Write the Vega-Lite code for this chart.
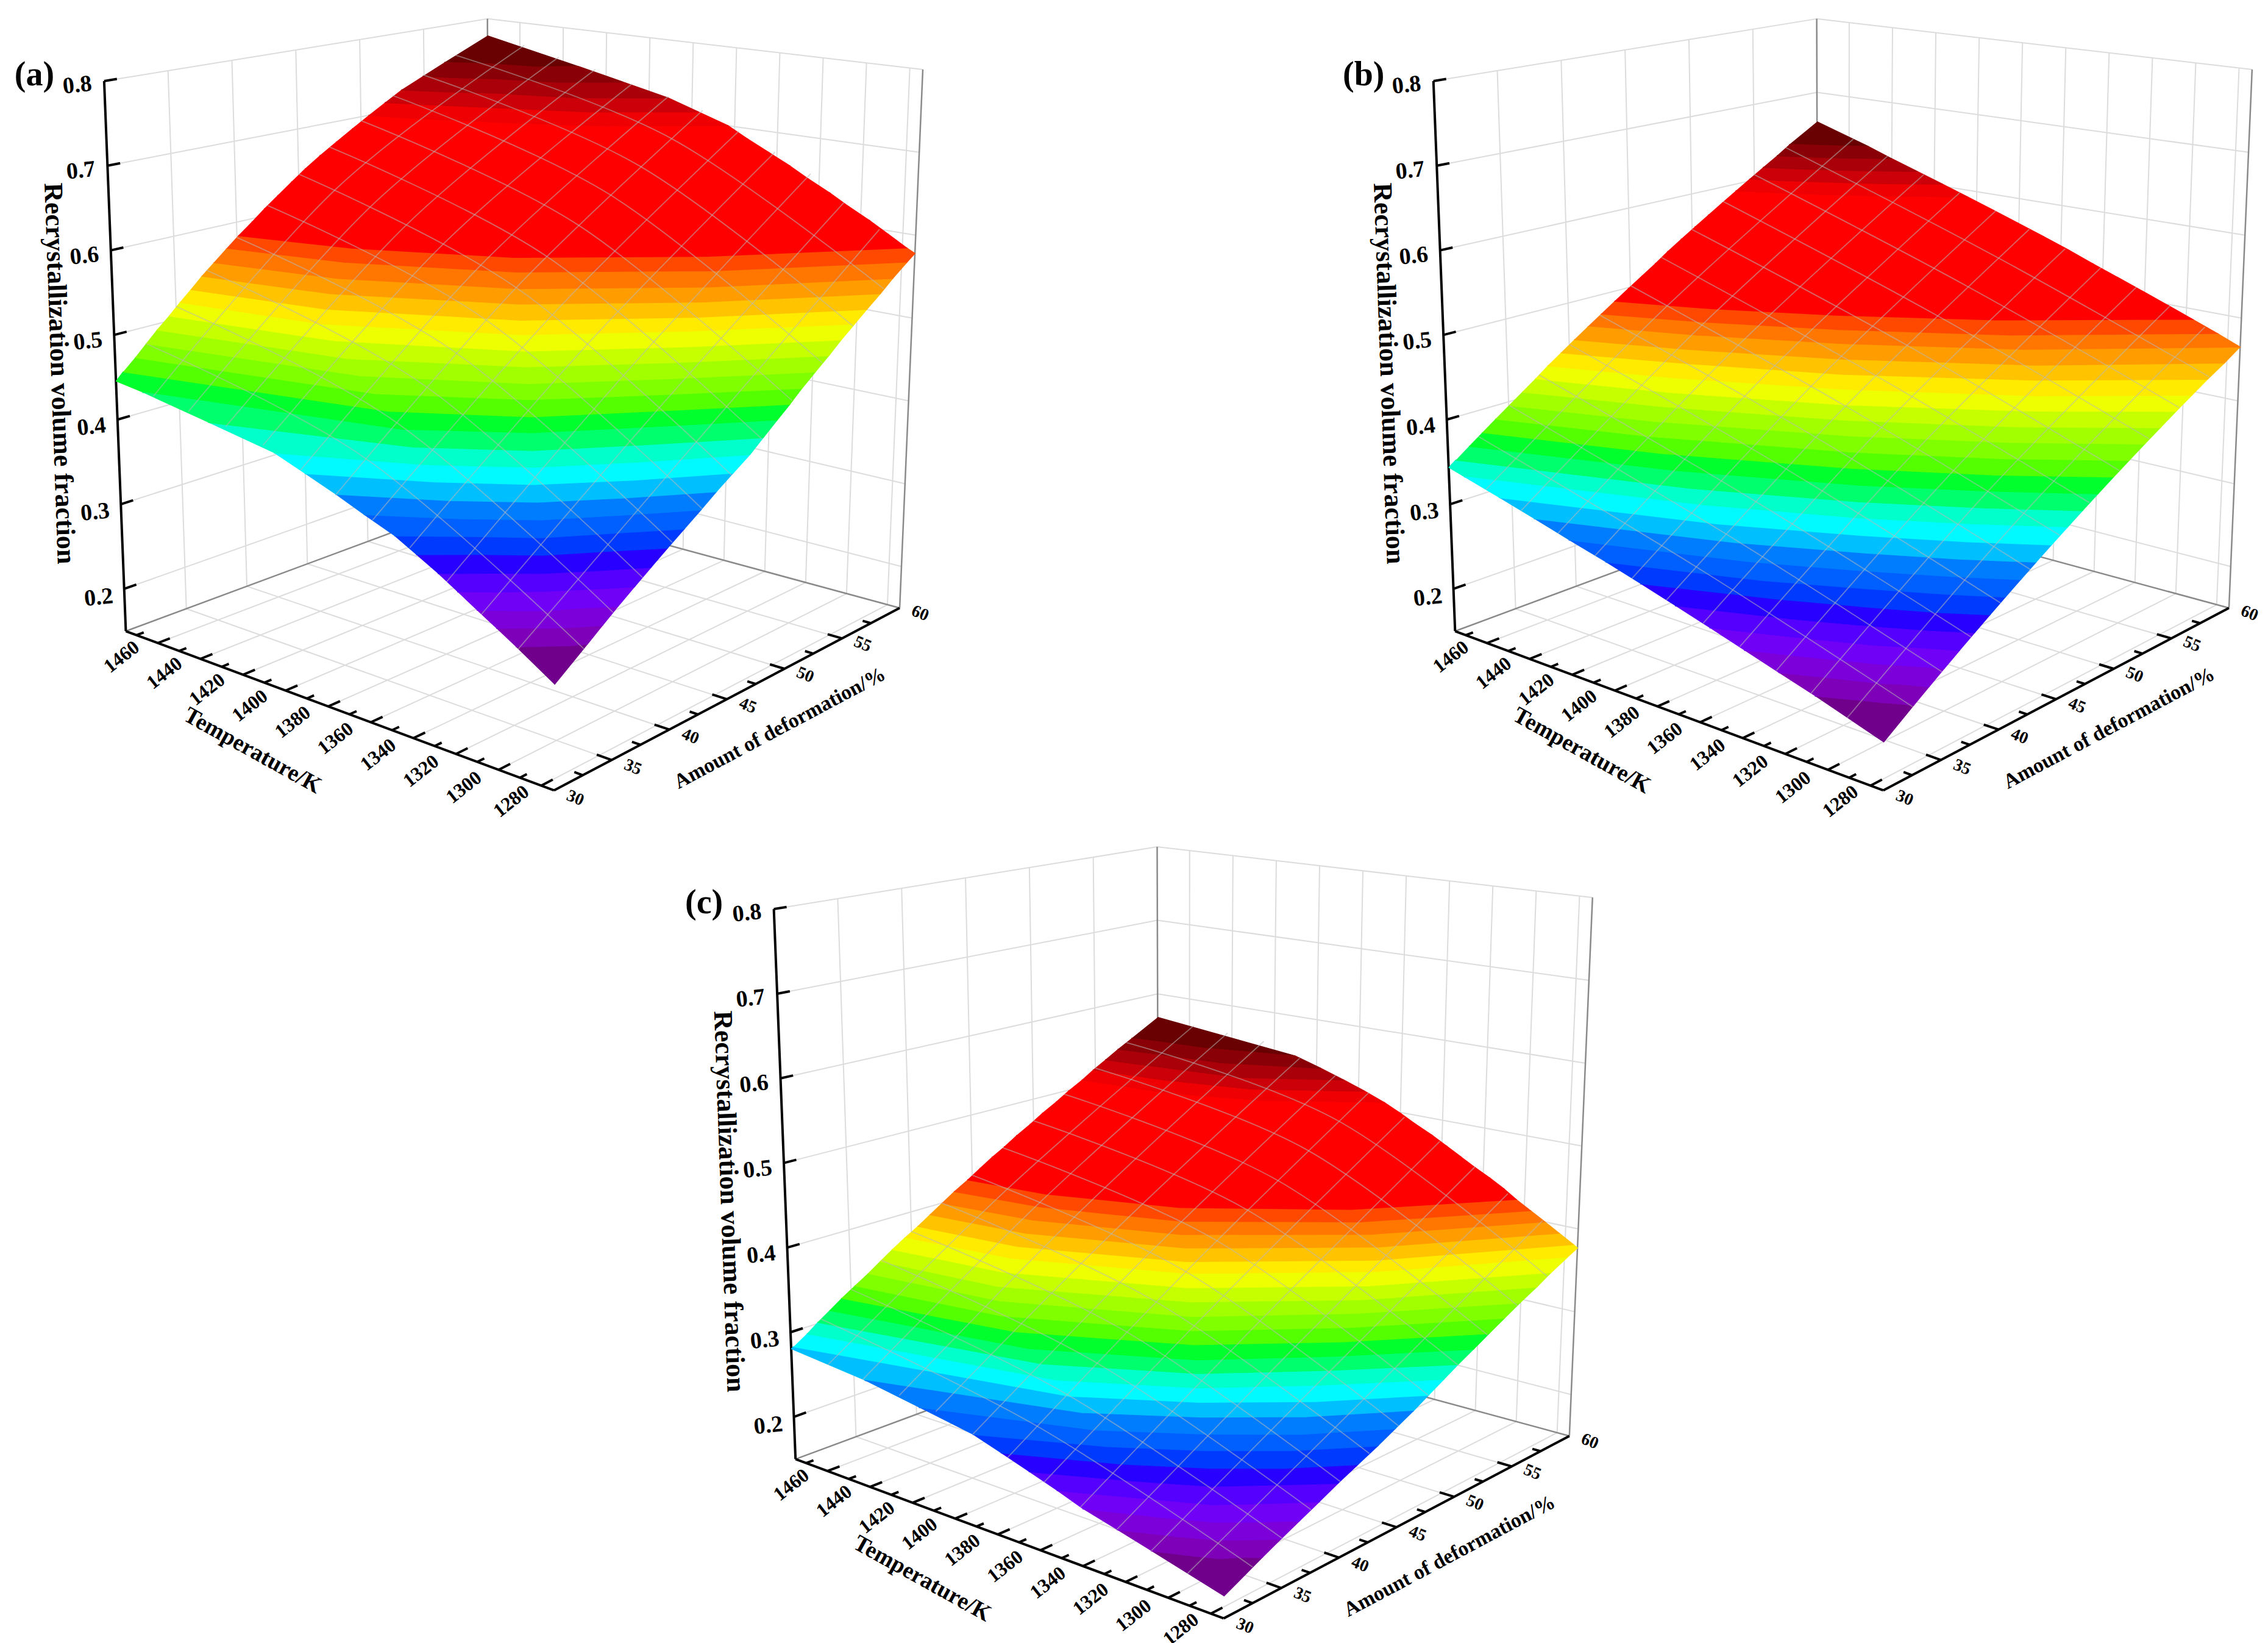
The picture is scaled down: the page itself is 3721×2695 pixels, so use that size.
{"$schema":"https://vega.github.io/schema/vega-lite/v6.json","width":3721,"height":2695,"padding":0,"autosize":{"type":"none"},"background":"white","config":{"view":{"stroke":null}},
"layer":[
{"data":{"values":[
{"t":1280,"d":30,"v":0.15,"t2":1280,"d2":60,"v2":0.15,"g":"g"},{"t":1300,"d":30,"v":0.15,"t2":1300,"d2":60,"v2":0.15,"g":"g"},{"t":1320,"d":30,"v":0.15,"t2":1320,"d2":60,"v2":0.15,"g":"g"},{"t":1340,"d":30,"v":0.15,"t2":1340,"d2":60,"v2":0.15,"g":"g"},{"t":1360,"d":30,"v":0.15,"t2":1360,"d2":60,"v2":0.15,"g":"g"},{"t":1380,"d":30,"v":0.15,"t2":1380,"d2":60,"v2":0.15,"g":"g"},{"t":1400,"d":30,"v":0.15,"t2":1400,"d2":60,"v2":0.15,"g":"g"},{"t":1420,"d":30,"v":0.15,"t2":1420,"d2":60,"v2":0.15,"g":"g"},{"t":1440,"d":30,"v":0.15,"t2":1440,"d2":60,"v2":0.15,"g":"g"},{"t":1460,"d":30,"v":0.15,"t2":1460,"d2":60,"v2":0.15,"g":"g"},
{"t":1475,"d":35,"v":0.15,"t2":1274,"d2":35,"v2":0.15,"g":"g"},{"t":1475,"d":40,"v":0.15,"t2":1274,"d2":40,"v2":0.15,"g":"g"},{"t":1475,"d":45,"v":0.15,"t2":1274,"d2":45,"v2":0.15,"g":"g"},{"t":1475,"d":50,"v":0.15,"t2":1274,"d2":50,"v2":0.15,"g":"g"},{"t":1475,"d":55,"v":0.15,"t2":1274,"d2":55,"v2":0.15,"g":"g"},
{"t":1475,"d":35,"v":0.15,"t2":1475,"d2":35,"v2":0.8,"g":"g"},{"t":1475,"d":40,"v":0.15,"t2":1475,"d2":40,"v2":0.8,"g":"g"},{"t":1475,"d":45,"v":0.15,"t2":1475,"d2":45,"v2":0.8,"g":"g"},{"t":1475,"d":50,"v":0.15,"t2":1475,"d2":50,"v2":0.8,"g":"g"},{"t":1475,"d":55,"v":0.15,"t2":1475,"d2":55,"v2":0.8,"g":"g"},
{"t":1280,"d":60,"v":0.15,"t2":1280,"d2":60,"v2":0.8,"g":"g"},{"t":1300,"d":60,"v":0.15,"t2":1300,"d2":60,"v2":0.8,"g":"g"},{"t":1320,"d":60,"v":0.15,"t2":1320,"d2":60,"v2":0.8,"g":"g"},{"t":1340,"d":60,"v":0.15,"t2":1340,"d2":60,"v2":0.8,"g":"g"},{"t":1360,"d":60,"v":0.15,"t2":1360,"d2":60,"v2":0.8,"g":"g"},{"t":1380,"d":60,"v":0.15,"t2":1380,"d2":60,"v2":0.8,"g":"g"},{"t":1400,"d":60,"v":0.15,"t2":1400,"d2":60,"v2":0.8,"g":"g"},{"t":1420,"d":60,"v":0.15,"t2":1420,"d2":60,"v2":0.8,"g":"g"},{"t":1440,"d":60,"v":0.15,"t2":1440,"d2":60,"v2":0.8,"g":"g"},{"t":1460,"d":60,"v":0.15,"t2":1460,"d2":60,"v2":0.8,"g":"g"},
{"t":1475,"d":30,"v":0.2,"t2":1475,"d2":60,"v2":0.2,"g":"g"},{"t":1475,"d":30,"v":0.3,"t2":1475,"d2":60,"v2":0.3,"g":"g"},{"t":1475,"d":30,"v":0.4,"t2":1475,"d2":60,"v2":0.4,"g":"g"},{"t":1475,"d":30,"v":0.5,"t2":1475,"d2":60,"v2":0.5,"g":"g"},{"t":1475,"d":30,"v":0.6,"t2":1475,"d2":60,"v2":0.6,"g":"g"},{"t":1475,"d":30,"v":0.7,"t2":1475,"d2":60,"v2":0.7,"g":"g"},{"t":1475,"d":30,"v":0.8,"t2":1475,"d2":60,"v2":0.8,"g":"g"},
{"t":1475,"d":60,"v":0.2,"t2":1274,"d2":60,"v2":0.2,"g":"g"},{"t":1475,"d":60,"v":0.3,"t2":1274,"d2":60,"v2":0.3,"g":"g"},{"t":1475,"d":60,"v":0.4,"t2":1274,"d2":60,"v2":0.4,"g":"g"},{"t":1475,"d":60,"v":0.5,"t2":1274,"d2":60,"v2":0.5,"g":"g"},{"t":1475,"d":60,"v":0.6,"t2":1274,"d2":60,"v2":0.6,"g":"g"},{"t":1475,"d":60,"v":0.7,"t2":1274,"d2":60,"v2":0.7,"g":"g"},{"t":1475,"d":60,"v":0.8,"t2":1274,"d2":60,"v2":0.8,"g":"g"},
{"t":1475,"d":30,"v":0.15,"t2":1475,"d2":60,"v2":0.15,"g":"e"},{"t":1475,"d":60,"v":0.15,"t2":1274,"d2":60,"v2":0.15,"g":"e"},{"t":1475,"d":60,"v":0.15,"t2":1475,"d2":60,"v2":0.8,"g":"e"},{"t":1274,"d":60,"v":0.15,"t2":1274,"d2":60,"v2":0.8,"g":"e"},
{"t":1475,"d":30,"v":0.15,"t2":1274,"d2":30,"v2":0.15,"g":"a"},{"t":1274,"d":30,"v":0.15,"t2":1274,"d2":60,"v2":0.15,"g":"a"},{"t":1475,"d":30,"v":0.15,"t2":1475,"d2":30,"v2":0.8,"g":"a"},
{"t":1280,"d":30,"v":0.15,"t2":1280,"d2":31,"v2":0.15,"g":"a"},{"t":1300,"d":30,"v":0.15,"t2":1300,"d2":31,"v2":0.15,"g":"a"},{"t":1320,"d":30,"v":0.15,"t2":1320,"d2":31,"v2":0.15,"g":"a"},{"t":1340,"d":30,"v":0.15,"t2":1340,"d2":31,"v2":0.15,"g":"a"},{"t":1360,"d":30,"v":0.15,"t2":1360,"d2":31,"v2":0.15,"g":"a"},{"t":1380,"d":30,"v":0.15,"t2":1380,"d2":31,"v2":0.15,"g":"a"},{"t":1400,"d":30,"v":0.15,"t2":1400,"d2":31,"v2":0.15,"g":"a"},{"t":1420,"d":30,"v":0.15,"t2":1420,"d2":31,"v2":0.15,"g":"a"},{"t":1440,"d":30,"v":0.15,"t2":1440,"d2":31,"v2":0.15,"g":"a"},{"t":1460,"d":30,"v":0.15,"t2":1460,"d2":31,"v2":0.15,"g":"a"},
{"t":1290,"d":30,"v":0.15,"t2":1290,"d2":30.6,"v2":0.15,"g":"a"},{"t":1310,"d":30,"v":0.15,"t2":1310,"d2":30.6,"v2":0.15,"g":"a"},{"t":1330,"d":30,"v":0.15,"t2":1330,"d2":30.6,"v2":0.15,"g":"a"},{"t":1350,"d":30,"v":0.15,"t2":1350,"d2":30.6,"v2":0.15,"g":"a"},{"t":1370,"d":30,"v":0.15,"t2":1370,"d2":30.6,"v2":0.15,"g":"a"},{"t":1390,"d":30,"v":0.15,"t2":1390,"d2":30.6,"v2":0.15,"g":"a"},{"t":1410,"d":30,"v":0.15,"t2":1410,"d2":30.6,"v2":0.15,"g":"a"},{"t":1430,"d":30,"v":0.15,"t2":1430,"d2":30.6,"v2":0.15,"g":"a"},{"t":1450,"d":30,"v":0.15,"t2":1450,"d2":30.6,"v2":0.15,"g":"a"},{"t":1470,"d":30,"v":0.15,"t2":1470,"d2":30.6,"v2":0.15,"g":"a"},
{"t":1274,"d":35,"v":0.15,"t2":1281,"d2":35,"v2":0.15,"g":"a"},{"t":1274,"d":40,"v":0.15,"t2":1281,"d2":40,"v2":0.15,"g":"a"},{"t":1274,"d":45,"v":0.15,"t2":1281,"d2":45,"v2":0.15,"g":"a"},{"t":1274,"d":50,"v":0.15,"t2":1281,"d2":50,"v2":0.15,"g":"a"},{"t":1274,"d":55,"v":0.15,"t2":1281,"d2":55,"v2":0.15,"g":"a"},
{"t":1274,"d":32.5,"v":0.15,"t2":1278,"d2":32.5,"v2":0.15,"g":"a"},{"t":1274,"d":37.5,"v":0.15,"t2":1278,"d2":37.5,"v2":0.15,"g":"a"},{"t":1274,"d":42.5,"v":0.15,"t2":1278,"d2":42.5,"v2":0.15,"g":"a"},{"t":1274,"d":47.5,"v":0.15,"t2":1278,"d2":47.5,"v2":0.15,"g":"a"},{"t":1274,"d":52.5,"v":0.15,"t2":1278,"d2":52.5,"v2":0.15,"g":"a"},{"t":1274,"d":57.5,"v":0.15,"t2":1278,"d2":57.5,"v2":0.15,"g":"a"},
{"t":1475,"d":30,"v":0.2,"t2":1475,"d2":31,"v2":0.2,"g":"a"},{"t":1475,"d":30,"v":0.3,"t2":1475,"d2":31,"v2":0.3,"g":"a"},{"t":1475,"d":30,"v":0.4,"t2":1475,"d2":31,"v2":0.4,"g":"a"},{"t":1475,"d":30,"v":0.5,"t2":1475,"d2":31,"v2":0.5,"g":"a"},{"t":1475,"d":30,"v":0.6,"t2":1475,"d2":31,"v2":0.6,"g":"a"},{"t":1475,"d":30,"v":0.7,"t2":1475,"d2":31,"v2":0.7,"g":"a"},{"t":1475,"d":30,"v":0.8,"t2":1475,"d2":31,"v2":0.8,"g":"a"}
]},
"transform":[
{"calculate":"['a','b','c']","as":"ps"},{"flatten":["ps"],"as":["p"]},
{"calculate":"datum.p=='a'?0:datum.p=='b'?919:463","as":"ox"},{"calculate":"datum.p=='c'?572:0","as":"oy"},
{"calculate":"(1475-datum.t)/201","as":"s"},{"calculate":"(datum.d-30)/30","as":"r"},{"calculate":"(datum.v-0.15)/0.65","as":"w"},
{"calculate":"(1475-datum.t2)/201","as":"s2"},{"calculate":"(datum.d2-30)/30","as":"r2"},{"calculate":"(datum.v2-0.15)/0.65","as":"w2"},
{"calculate":"(1-datum.w)*((1-datum.s)*(1-datum.r)*87+datum.s*(1-datum.r)*383+datum.s*datum.r*622+(1-datum.s)*datum.r*338)+datum.w*((1-datum.s)*(1-datum.r)*72+datum.s*(1-datum.r)*385+datum.s*datum.r*638+(1-datum.s)*datum.r*337)+datum.ox","as":"px"},
{"calculate":"(1-datum.w)*((1-datum.s)*(1-datum.r)*436+datum.s*(1-datum.r)*546+datum.s*datum.r*420+(1-datum.s)*datum.r*343)+datum.w*((1-datum.s)*(1-datum.r)*56+datum.s*(1-datum.r)*114+datum.s*datum.r*48+(1-datum.s)*datum.r*13)+datum.oy","as":"py"},
{"calculate":"(1-datum.w2)*((1-datum.s2)*(1-datum.r2)*87+datum.s2*(1-datum.r2)*383+datum.s2*datum.r2*622+(1-datum.s2)*datum.r2*338)+datum.w2*((1-datum.s2)*(1-datum.r2)*72+datum.s2*(1-datum.r2)*385+datum.s2*datum.r2*638+(1-datum.s2)*datum.r2*337)+datum.ox","as":"px2"},
{"calculate":"(1-datum.w2)*((1-datum.s2)*(1-datum.r2)*436+datum.s2*(1-datum.r2)*546+datum.s2*datum.r2*420+(1-datum.s2)*datum.r2*343)+datum.w2*((1-datum.s2)*(1-datum.r2)*56+datum.s2*(1-datum.r2)*114+datum.s2*datum.r2*48+(1-datum.s2)*datum.r2*13)+datum.oy","as":"py2"}
],
"mark":{"type":"rule"},
"encoding":{
"x":{"field":"px","type":"quantitative","axis":null,"scale":{"domain":[0,1568],"nice":false,"zero":false}},
"y":{"field":"py","type":"quantitative","axis":null,"scale":{"domain":[1135,0],"nice":false,"zero":false}},
"x2":{"field":"px2"},"y2":{"field":"py2"},
"color":{"field":"g","type":"nominal","legend":null,"scale":{"domain":["g","e","a"],"range":["#dcdcdc","#8a8a8a","#000000"]}},
"strokeWidth":{"field":"g","type":"nominal","legend":null,"scale":{"type":"ordinal","domain":["g","e","a"],"range":[2,2.5,4]}}
}},
{"data":{"values":[
{"p":"a","k":1,"v":0.26,"t":1274,"d":30,"i":50},{"p":"a","k":14,"v":0.445,"t":1475,"d":30,"i":101},{"p":"a","k":24,"v":0.578,"t":1274,"d":60,"i":50},{"p":"a","k":38,"v":0.777,"t":1475,"d":60,"i":50},
{"p":"a","k":2,"v":0.286,"t":1292,"d":30,"i":0},{"p":"a","k":2,"v":0.286,"t":1287,"d":30.7,"i":1},{"p":"a","k":2,"v":0.286,"t":1283,"d":31.3,"i":2},{"p":"a","k":2,"v":0.286,"t":1278,"d":32,"i":3},{"p":"a","k":2,"v":0.286,"t":1274,"d":32.8,"i":4},
{"p":"a","k":3,"v":0.2985,"t":1301,"d":30,"i":0},{"p":"a","k":3,"v":0.2985,"t":1294,"d":31,"i":1},{"p":"a","k":3,"v":0.2985,"t":1287,"d":31.9,"i":2},{"p":"a","k":3,"v":0.2985,"t":1280,"d":33,"i":3},{"p":"a","k":3,"v":0.2985,"t":1274,"d":34.1,"i":4},
{"p":"a","k":4,"v":0.311,"t":1310,"d":30,"i":0},{"p":"a","k":4,"v":0.311,"t":1300,"d":31.3,"i":1},{"p":"a","k":4,"v":0.311,"t":1291,"d":32.5,"i":2},{"p":"a","k":4,"v":0.311,"t":1283,"d":34,"i":3},{"p":"a","k":4,"v":0.311,"t":1274,"d":35.4,"i":4},
{"p":"a","k":5,"v":0.324,"t":1319,"d":30,"i":0},{"p":"a","k":5,"v":0.324,"t":1307,"d":31.6,"i":1},{"p":"a","k":5,"v":0.324,"t":1296,"d":33.2,"i":2},{"p":"a","k":5,"v":0.324,"t":1285,"d":35,"i":3},{"p":"a","k":5,"v":0.324,"t":1274,"d":36.8,"i":4},
{"p":"a","k":6,"v":0.337,"t":1328,"d":30,"i":0},{"p":"a","k":6,"v":0.337,"t":1314,"d":32,"i":1},{"p":"a","k":6,"v":0.337,"t":1300,"d":33.8,"i":2},{"p":"a","k":6,"v":0.337,"t":1287,"d":36,"i":3},{"p":"a","k":6,"v":0.337,"t":1274,"d":38.2,"i":4},
{"p":"a","k":7,"v":0.35,"t":1338,"d":30,"i":0},{"p":"a","k":7,"v":0.35,"t":1321,"d":32.4,"i":1},{"p":"a","k":7,"v":0.35,"t":1304,"d":34.5,"i":2},{"p":"a","k":7,"v":0.35,"t":1290,"d":37,"i":3},{"p":"a","k":7,"v":0.35,"t":1274,"d":39.6,"i":4},
{"p":"a","k":8,"v":0.363,"t":1348,"d":30,"i":0},{"p":"a","k":8,"v":0.363,"t":1328,"d":32.7,"i":1},{"p":"a","k":8,"v":0.363,"t":1308,"d":35.1,"i":2},{"p":"a","k":8,"v":0.363,"t":1292,"d":38,"i":3},{"p":"a","k":8,"v":0.363,"t":1274,"d":41,"i":4},
{"p":"a","k":9,"v":0.376,"t":1362,"d":30,"i":0},{"p":"a","k":9,"v":0.376,"t":1335,"d":33,"i":1},{"p":"a","k":9,"v":0.376,"t":1312,"d":35.8,"i":2},{"p":"a","k":9,"v":0.376,"t":1294,"d":39,"i":3},{"p":"a","k":9,"v":0.376,"t":1274,"d":42.4,"i":4},
{"p":"a","k":10,"v":0.389,"t":1375,"d":30,"i":0},{"p":"a","k":10,"v":0.389,"t":1342,"d":33.4,"i":1},{"p":"a","k":10,"v":0.389,"t":1317,"d":36.4,"i":2},{"p":"a","k":10,"v":0.389,"t":1296,"d":39.9,"i":3},{"p":"a","k":10,"v":0.389,"t":1274,"d":43.7,"i":4},
{"p":"a","k":11,"v":0.402,"t":1389,"d":30,"i":0},{"p":"a","k":11,"v":0.402,"t":1350,"d":33.8,"i":1},{"p":"a","k":11,"v":0.402,"t":1322,"d":37,"i":2},{"p":"a","k":11,"v":0.402,"t":1298,"d":40.9,"i":3},{"p":"a","k":11,"v":0.402,"t":1274,"d":45.1,"i":4},
{"p":"a","k":12,"v":0.415,"t":1403,"d":30,"i":0},{"p":"a","k":12,"v":0.415,"t":1357,"d":34.1,"i":1},{"p":"a","k":12,"v":0.415,"t":1326,"d":37.7,"i":2},{"p":"a","k":12,"v":0.415,"t":1301,"d":41.9,"i":3},{"p":"a","k":12,"v":0.415,"t":1274,"d":46.5,"i":4},
{"p":"a","k":13,"v":0.428,"t":1433,"d":30,"i":0},{"p":"a","k":13,"v":0.428,"t":1364,"d":34.5,"i":1},{"p":"a","k":13,"v":0.428,"t":1330,"d":38.3,"i":2},{"p":"a","k":13,"v":0.428,"t":1303,"d":42.9,"i":3},{"p":"a","k":13,"v":0.428,"t":1274,"d":47.6,"i":4},
{"p":"a","k":14,"v":0.441,"t":1463,"d":30,"i":0},{"p":"a","k":14,"v":0.441,"t":1371,"d":34.8,"i":1},{"p":"a","k":14,"v":0.441,"t":1334,"d":39,"i":2},{"p":"a","k":14,"v":0.441,"t":1305,"d":43.9,"i":3},{"p":"a","k":14,"v":0.441,"t":1274,"d":48.7,"i":4},
{"p":"a","k":15,"v":0.454,"t":1475,"d":30.6,"i":0},{"p":"a","k":15,"v":0.454,"t":1380,"d":35.3,"i":1},{"p":"a","k":15,"v":0.454,"t":1338,"d":39.7,"i":2},{"p":"a","k":15,"v":0.454,"t":1307,"d":44.8,"i":3},{"p":"a","k":15,"v":0.454,"t":1274,"d":49.8,"i":4},
{"p":"a","k":16,"v":0.467,"t":1475,"d":31.6,"i":0},{"p":"a","k":16,"v":0.467,"t":1388,"d":35.7,"i":1},{"p":"a","k":16,"v":0.467,"t":1343,"d":40.4,"i":2},{"p":"a","k":16,"v":0.467,"t":1309,"d":45.7,"i":3},{"p":"a","k":16,"v":0.467,"t":1274,"d":50.8,"i":4},
{"p":"a","k":17,"v":0.48,"t":1475,"d":32.5,"i":0},{"p":"a","k":17,"v":0.48,"t":1397,"d":36.1,"i":1},{"p":"a","k":17,"v":0.48,"t":1347,"d":41,"i":2},{"p":"a","k":17,"v":0.48,"t":1311,"d":46.5,"i":3},{"p":"a","k":17,"v":0.48,"t":1274,"d":51.9,"i":4},
{"p":"a","k":18,"v":0.493,"t":1475,"d":33.4,"i":0},{"p":"a","k":18,"v":0.493,"t":1405,"d":36.5,"i":1},{"p":"a","k":18,"v":0.493,"t":1352,"d":41.7,"i":2},{"p":"a","k":18,"v":0.493,"t":1313,"d":47.4,"i":3},{"p":"a","k":18,"v":0.493,"t":1274,"d":53,"i":4},
{"p":"a","k":19,"v":0.506,"t":1475,"d":34.4,"i":0},{"p":"a","k":19,"v":0.506,"t":1414,"d":37,"i":1},{"p":"a","k":19,"v":0.506,"t":1356,"d":42.3,"i":2},{"p":"a","k":19,"v":0.506,"t":1315,"d":48.2,"i":3},{"p":"a","k":19,"v":0.506,"t":1274,"d":54,"i":4},
{"p":"a","k":20,"v":0.519,"t":1475,"d":35.3,"i":0},{"p":"a","k":20,"v":0.519,"t":1422,"d":37.4,"i":1},{"p":"a","k":20,"v":0.519,"t":1361,"d":43,"i":2},{"p":"a","k":20,"v":0.519,"t":1317,"d":49.1,"i":3},{"p":"a","k":20,"v":0.519,"t":1274,"d":55.1,"i":4},
{"p":"a","k":21,"v":0.531,"t":1475,"d":36.2,"i":0},{"p":"a","k":21,"v":0.531,"t":1425,"d":38.3,"i":1},{"p":"a","k":21,"v":0.531,"t":1365,"d":43.6,"i":2},{"p":"a","k":21,"v":0.531,"t":1318,"d":49.9,"i":3},{"p":"a","k":21,"v":0.531,"t":1274,"d":56.1,"i":4},
{"p":"a","k":22,"v":0.544,"t":1475,"d":37.1,"i":0},{"p":"a","k":22,"v":0.544,"t":1428,"d":39.2,"i":1},{"p":"a","k":22,"v":0.544,"t":1370,"d":44.3,"i":2},{"p":"a","k":22,"v":0.544,"t":1320,"d":50.7,"i":3},{"p":"a","k":22,"v":0.544,"t":1274,"d":57.2,"i":4},
{"p":"a","k":23,"v":0.557,"t":1475,"d":38.1,"i":0},{"p":"a","k":23,"v":0.557,"t":1430,"d":40.2,"i":1},{"p":"a","k":23,"v":0.557,"t":1374,"d":45,"i":2},{"p":"a","k":23,"v":0.557,"t":1322,"d":51.5,"i":3},{"p":"a","k":23,"v":0.557,"t":1274,"d":58.2,"i":4},
{"p":"a","k":24,"v":0.57,"t":1475,"d":39.1,"i":0},{"p":"a","k":24,"v":0.57,"t":1433,"d":41.2,"i":1},{"p":"a","k":24,"v":0.57,"t":1379,"d":45.7,"i":2},{"p":"a","k":24,"v":0.57,"t":1324,"d":52.4,"i":3},{"p":"a","k":24,"v":0.57,"t":1274,"d":59.3,"i":4},
{"p":"a","k":25,"v":0.583,"t":1475,"d":40.1,"i":0},{"p":"a","k":25,"v":0.583,"t":1435,"d":42.2,"i":1},{"p":"a","k":25,"v":0.583,"t":1384,"d":46.4,"i":2},{"p":"a","k":25,"v":0.583,"t":1331,"d":52.8,"i":3},{"p":"a","k":25,"v":0.583,"t":1278,"d":60,"i":4},
{"p":"a","k":26,"v":0.596,"t":1475,"d":41.2,"i":0},{"p":"a","k":26,"v":0.596,"t":1438,"d":43.3,"i":1},{"p":"a","k":26,"v":0.596,"t":1389,"d":47.2,"i":2},{"p":"a","k":26,"v":0.596,"t":1338,"d":53.2,"i":3},{"p":"a","k":26,"v":0.596,"t":1287,"d":60,"i":4},
{"p":"a","k":27,"v":0.609,"t":1475,"d":42.2,"i":0},{"p":"a","k":27,"v":0.609,"t":1440,"d":44.3,"i":1},{"p":"a","k":27,"v":0.609,"t":1394,"d":47.9,"i":2},{"p":"a","k":27,"v":0.609,"t":1344,"d":53.5,"i":3},{"p":"a","k":27,"v":0.609,"t":1296,"d":60,"i":4},
{"p":"a","k":28,"v":0.622,"t":1475,"d":43.3,"i":0},{"p":"a","k":28,"v":0.622,"t":1442,"d":45.3,"i":1},{"p":"a","k":28,"v":0.622,"t":1399,"d":48.7,"i":2},{"p":"a","k":28,"v":0.622,"t":1351,"d":53.9,"i":3},{"p":"a","k":28,"v":0.622,"t":1306,"d":60,"i":4},
{"p":"a","k":29,"v":0.635,"t":1475,"d":44.4,"i":0},{"p":"a","k":29,"v":0.635,"t":1445,"d":46.3,"i":1},{"p":"a","k":29,"v":0.635,"t":1404,"d":49.4,"i":2},{"p":"a","k":29,"v":0.635,"t":1358,"d":54.2,"i":3},{"p":"a","k":29,"v":0.635,"t":1315,"d":60,"i":4},
{"p":"a","k":30,"v":0.648,"t":1475,"d":45.5,"i":0},{"p":"a","k":30,"v":0.648,"t":1447,"d":47.4,"i":1},{"p":"a","k":30,"v":0.648,"t":1409,"d":50.2,"i":2},{"p":"a","k":30,"v":0.648,"t":1365,"d":54.5,"i":3},{"p":"a","k":30,"v":0.648,"t":1325,"d":60,"i":4},
{"p":"a","k":31,"v":0.661,"t":1475,"d":46.7,"i":0},{"p":"a","k":31,"v":0.661,"t":1450,"d":48.5,"i":1},{"p":"a","k":31,"v":0.661,"t":1415,"d":51,"i":2},{"p":"a","k":31,"v":0.661,"t":1372,"d":54.9,"i":3},{"p":"a","k":31,"v":0.661,"t":1334,"d":60,"i":4},
{"p":"a","k":32,"v":0.674,"t":1475,"d":48,"i":0},{"p":"a","k":32,"v":0.674,"t":1452,"d":49.6,"i":1},{"p":"a","k":32,"v":0.674,"t":1420,"d":51.8,"i":2},{"p":"a","k":32,"v":0.674,"t":1380,"d":55.3,"i":3},{"p":"a","k":32,"v":0.674,"t":1344,"d":60,"i":4},
{"p":"a","k":33,"v":0.687,"t":1475,"d":49.3,"i":0},{"p":"a","k":33,"v":0.687,"t":1455,"d":50.6,"i":1},{"p":"a","k":33,"v":0.687,"t":1426,"d":52.7,"i":2},{"p":"a","k":33,"v":0.687,"t":1390,"d":55.7,"i":3},{"p":"a","k":33,"v":0.687,"t":1354,"d":60,"i":4},
{"p":"a","k":34,"v":0.7,"t":1475,"d":50.6,"i":0},{"p":"a","k":34,"v":0.7,"t":1457,"d":51.7,"i":1},{"p":"a","k":34,"v":0.7,"t":1432,"d":53.6,"i":2},{"p":"a","k":34,"v":0.7,"t":1399,"d":56.2,"i":3},{"p":"a","k":34,"v":0.7,"t":1363,"d":60,"i":4},
{"p":"a","k":35,"v":0.7125,"t":1475,"d":51.9,"i":0},{"p":"a","k":35,"v":0.7125,"t":1460,"d":53,"i":1},{"p":"a","k":35,"v":0.7125,"t":1439,"d":54.6,"i":2},{"p":"a","k":35,"v":0.7125,"t":1408,"d":56.7,"i":3},{"p":"a","k":35,"v":0.7125,"t":1377,"d":60,"i":4},
{"p":"a","k":36,"v":0.725,"t":1475,"d":53.2,"i":0},{"p":"a","k":36,"v":0.725,"t":1462,"d":54.2,"i":1},{"p":"a","k":36,"v":0.725,"t":1446,"d":55.7,"i":2},{"p":"a","k":36,"v":0.725,"t":1418,"d":57.2,"i":3},{"p":"a","k":36,"v":0.725,"t":1391,"d":60,"i":4},
{"p":"a","k":37,"v":0.738,"t":1475,"d":54.9,"i":0},{"p":"a","k":37,"v":0.738,"t":1465,"d":55.6,"i":1},{"p":"a","k":37,"v":0.738,"t":1453,"d":56.7,"i":2},{"p":"a","k":37,"v":0.738,"t":1431,"d":57.9,"i":3},{"p":"a","k":37,"v":0.738,"t":1412,"d":60,"i":4},
{"p":"a","k":38,"v":0.751,"t":1475,"d":56.6,"i":0},{"p":"a","k":38,"v":0.751,"t":1469,"d":57.1,"i":1},{"p":"a","k":38,"v":0.751,"t":1461,"d":57.8,"i":2},{"p":"a","k":38,"v":0.751,"t":1444,"d":58.5,"i":3},{"p":"a","k":38,"v":0.751,"t":1433,"d":60,"i":4},
{"p":"b","k":1,"v":0.2,"t":1274,"d":30,"i":50},{"p":"b","k":12,"v":0.343,"t":1475,"d":30,"i":101},{"p":"b","k":23,"v":0.465,"t":1274,"d":60,"i":50},{"p":"b","k":38,"v":0.66,"t":1475,"d":60,"i":50},
{"p":"b","k":2,"v":0.223,"t":1306,"d":30,"i":0},{"p":"b","k":2,"v":0.223,"t":1294,"d":31,"i":1},{"p":"b","k":2,"v":0.223,"t":1285,"d":31.7,"i":2},{"p":"b","k":2,"v":0.223,"t":1279,"d":32.2,"i":3},{"p":"b","k":2,"v":0.223,"t":1274,"d":32.6,"i":4},
{"p":"b","k":3,"v":0.2345,"t":1323,"d":30,"i":0},{"p":"b","k":3,"v":0.2345,"t":1304,"d":31.5,"i":1},{"p":"b","k":3,"v":0.2345,"t":1290,"d":32.5,"i":2},{"p":"b","k":3,"v":0.2345,"t":1282,"d":33.3,"i":3},{"p":"b","k":3,"v":0.2345,"t":1274,"d":33.9,"i":4},
{"p":"b","k":4,"v":0.246,"t":1339,"d":30,"i":0},{"p":"b","k":4,"v":0.246,"t":1313,"d":32,"i":1},{"p":"b","k":4,"v":0.246,"t":1296,"d":33.3,"i":2},{"p":"b","k":4,"v":0.246,"t":1284,"d":34.4,"i":3},{"p":"b","k":4,"v":0.246,"t":1274,"d":35.2,"i":4},
{"p":"b","k":5,"v":0.2575,"t":1355,"d":30,"i":0},{"p":"b","k":5,"v":0.2575,"t":1322,"d":32.5,"i":1},{"p":"b","k":5,"v":0.2575,"t":1301,"d":34.1,"i":2},{"p":"b","k":5,"v":0.2575,"t":1286,"d":35.5,"i":3},{"p":"b","k":5,"v":0.2575,"t":1274,"d":36.5,"i":4},
{"p":"b","k":6,"v":0.269,"t":1371,"d":30,"i":0},{"p":"b","k":6,"v":0.269,"t":1332,"d":32.9,"i":1},{"p":"b","k":6,"v":0.269,"t":1307,"d":34.9,"i":2},{"p":"b","k":6,"v":0.269,"t":1288,"d":36.5,"i":3},{"p":"b","k":6,"v":0.269,"t":1274,"d":37.8,"i":4},
{"p":"b","k":7,"v":0.2805,"t":1387,"d":30,"i":0},{"p":"b","k":7,"v":0.2805,"t":1342,"d":33.4,"i":1},{"p":"b","k":7,"v":0.2805,"t":1312,"d":35.8,"i":2},{"p":"b","k":7,"v":0.2805,"t":1290,"d":37.6,"i":3},{"p":"b","k":7,"v":0.2805,"t":1274,"d":39.1,"i":4},
{"p":"b","k":8,"v":0.292,"t":1403,"d":30,"i":0},{"p":"b","k":8,"v":0.292,"t":1351,"d":33.8,"i":1},{"p":"b","k":8,"v":0.292,"t":1318,"d":36.6,"i":2},{"p":"b","k":8,"v":0.292,"t":1293,"d":38.7,"i":3},{"p":"b","k":8,"v":0.292,"t":1274,"d":40.4,"i":4},
{"p":"b","k":9,"v":0.3035,"t":1420,"d":30,"i":0},{"p":"b","k":9,"v":0.3035,"t":1360,"d":34.3,"i":1},{"p":"b","k":9,"v":0.3035,"t":1323,"d":37.4,"i":2},{"p":"b","k":9,"v":0.3035,"t":1295,"d":39.8,"i":3},{"p":"b","k":9,"v":0.3035,"t":1274,"d":41.7,"i":4},
{"p":"b","k":10,"v":0.315,"t":1436,"d":30,"i":0},{"p":"b","k":10,"v":0.315,"t":1370,"d":34.8,"i":1},{"p":"b","k":10,"v":0.315,"t":1329,"d":38.2,"i":2},{"p":"b","k":10,"v":0.315,"t":1298,"d":40.8,"i":3},{"p":"b","k":10,"v":0.315,"t":1274,"d":43,"i":4},
{"p":"b","k":11,"v":0.3265,"t":1452,"d":30,"i":0},{"p":"b","k":11,"v":0.3265,"t":1380,"d":35.2,"i":1},{"p":"b","k":11,"v":0.3265,"t":1334,"d":39,"i":2},{"p":"b","k":11,"v":0.3265,"t":1300,"d":41.9,"i":3},{"p":"b","k":11,"v":0.3265,"t":1274,"d":44.3,"i":4},
{"p":"b","k":12,"v":0.338,"t":1468,"d":30,"i":0},{"p":"b","k":12,"v":0.338,"t":1389,"d":35.7,"i":1},{"p":"b","k":12,"v":0.338,"t":1339,"d":39.7,"i":2},{"p":"b","k":12,"v":0.338,"t":1303,"d":42.9,"i":3},{"p":"b","k":12,"v":0.338,"t":1274,"d":45.6,"i":4},
{"p":"b","k":13,"v":0.3495,"t":1475,"d":30.6,"i":0},{"p":"b","k":13,"v":0.3495,"t":1398,"d":36.1,"i":1},{"p":"b","k":13,"v":0.3495,"t":1344,"d":40.5,"i":2},{"p":"b","k":13,"v":0.3495,"t":1305,"d":44,"i":3},{"p":"b","k":13,"v":0.3495,"t":1274,"d":46.9,"i":4},
{"p":"b","k":14,"v":0.361,"t":1475,"d":31.7,"i":0},{"p":"b","k":14,"v":0.361,"t":1407,"d":36.6,"i":1},{"p":"b","k":14,"v":0.361,"t":1349,"d":41.3,"i":2},{"p":"b","k":14,"v":0.361,"t":1308,"d":45,"i":3},{"p":"b","k":14,"v":0.361,"t":1274,"d":48.2,"i":4},
{"p":"b","k":15,"v":0.3725,"t":1475,"d":32.8,"i":0},{"p":"b","k":15,"v":0.3725,"t":1416,"d":37,"i":1},{"p":"b","k":15,"v":0.3725,"t":1355,"d":42,"i":2},{"p":"b","k":15,"v":0.3725,"t":1310,"d":46,"i":3},{"p":"b","k":15,"v":0.3725,"t":1274,"d":49.5,"i":4},
{"p":"b","k":16,"v":0.384,"t":1475,"d":33.9,"i":0},{"p":"b","k":16,"v":0.384,"t":1425,"d":37.5,"i":1},{"p":"b","k":16,"v":0.384,"t":1360,"d":42.8,"i":2},{"p":"b","k":16,"v":0.384,"t":1312,"d":47.1,"i":3},{"p":"b","k":16,"v":0.384,"t":1274,"d":50.8,"i":4},
{"p":"b","k":17,"v":0.3955,"t":1475,"d":35,"i":0},{"p":"b","k":17,"v":0.3955,"t":1427,"d":38.5,"i":1},{"p":"b","k":17,"v":0.3955,"t":1365,"d":43.6,"i":2},{"p":"b","k":17,"v":0.3955,"t":1315,"d":48.1,"i":3},{"p":"b","k":17,"v":0.3955,"t":1274,"d":52.1,"i":4},
{"p":"b","k":18,"v":0.407,"t":1475,"d":36.1,"i":0},{"p":"b","k":18,"v":0.407,"t":1429,"d":39.5,"i":1},{"p":"b","k":18,"v":0.407,"t":1370,"d":44.3,"i":2},{"p":"b","k":18,"v":0.407,"t":1317,"d":49.1,"i":3},{"p":"b","k":18,"v":0.407,"t":1274,"d":53.4,"i":4},
{"p":"b","k":19,"v":0.4185,"t":1475,"d":37.2,"i":0},{"p":"b","k":19,"v":0.4185,"t":1431,"d":40.4,"i":1},{"p":"b","k":19,"v":0.4185,"t":1375,"d":45,"i":2},{"p":"b","k":19,"v":0.4185,"t":1319,"d":50.2,"i":3},{"p":"b","k":19,"v":0.4185,"t":1274,"d":54.7,"i":4},
{"p":"b","k":20,"v":0.43,"t":1475,"d":38.2,"i":0},{"p":"b","k":20,"v":0.43,"t":1433,"d":41.4,"i":1},{"p":"b","k":20,"v":0.43,"t":1380,"d":45.8,"i":2},{"p":"b","k":20,"v":0.43,"t":1321,"d":51.2,"i":3},{"p":"b","k":20,"v":0.43,"t":1274,"d":56,"i":4},
{"p":"b","k":21,"v":0.4415,"t":1475,"d":39.3,"i":0},{"p":"b","k":21,"v":0.4415,"t":1436,"d":42.4,"i":1},{"p":"b","k":21,"v":0.4415,"t":1385,"d":46.5,"i":2},{"p":"b","k":21,"v":0.4415,"t":1326,"d":52,"i":3},{"p":"b","k":21,"v":0.4415,"t":1274,"d":57.3,"i":4},
{"p":"b","k":22,"v":0.453,"t":1475,"d":40.4,"i":0},{"p":"b","k":22,"v":0.453,"t":1438,"d":43.3,"i":1},{"p":"b","k":22,"v":0.453,"t":1390,"d":47.3,"i":2},{"p":"b","k":22,"v":0.453,"t":1330,"d":52.8,"i":3},{"p":"b","k":22,"v":0.453,"t":1274,"d":58.7,"i":4},
{"p":"b","k":23,"v":0.4645,"t":1475,"d":41.5,"i":0},{"p":"b","k":23,"v":0.4645,"t":1440,"d":44.2,"i":1},{"p":"b","k":23,"v":0.4645,"t":1395,"d":48,"i":2},{"p":"b","k":23,"v":0.4645,"t":1338,"d":53.2,"i":3},{"p":"b","k":23,"v":0.4645,"t":1274,"d":59.9,"i":4},
{"p":"b","k":24,"v":0.476,"t":1475,"d":42.6,"i":0},{"p":"b","k":24,"v":0.476,"t":1442,"d":45.2,"i":1},{"p":"b","k":24,"v":0.476,"t":1400,"d":48.8,"i":2},{"p":"b","k":24,"v":0.476,"t":1347,"d":53.6,"i":3},{"p":"b","k":24,"v":0.476,"t":1285,"d":60,"i":4},
{"p":"b","k":25,"v":0.4875,"t":1475,"d":43.7,"i":0},{"p":"b","k":25,"v":0.4875,"t":1444,"d":46.1,"i":1},{"p":"b","k":25,"v":0.4875,"t":1405,"d":49.5,"i":2},{"p":"b","k":25,"v":0.4875,"t":1356,"d":54,"i":3},{"p":"b","k":25,"v":0.4875,"t":1297,"d":60,"i":4},
{"p":"b","k":26,"v":0.499,"t":1475,"d":44.8,"i":0},{"p":"b","k":26,"v":0.499,"t":1446,"d":47.1,"i":1},{"p":"b","k":26,"v":0.499,"t":1409,"d":50.2,"i":2},{"p":"b","k":26,"v":0.499,"t":1364,"d":54.5,"i":3},{"p":"b","k":26,"v":0.499,"t":1309,"d":60,"i":4},
{"p":"b","k":27,"v":0.5105,"t":1475,"d":45.9,"i":0},{"p":"b","k":27,"v":0.5105,"t":1448,"d":48,"i":1},{"p":"b","k":27,"v":0.5105,"t":1414,"d":51,"i":2},{"p":"b","k":27,"v":0.5105,"t":1372,"d":54.9,"i":3},{"p":"b","k":27,"v":0.5105,"t":1321,"d":60,"i":4},
{"p":"b","k":28,"v":0.522,"t":1475,"d":47,"i":0},{"p":"b","k":28,"v":0.522,"t":1450,"d":49,"i":1},{"p":"b","k":28,"v":0.522,"t":1419,"d":51.7,"i":2},{"p":"b","k":28,"v":0.522,"t":1380,"d":55.3,"i":3},{"p":"b","k":28,"v":0.522,"t":1333,"d":60,"i":4},
{"p":"b","k":29,"v":0.5335,"t":1475,"d":48,"i":0},{"p":"b","k":29,"v":0.5335,"t":1452,"d":50,"i":1},{"p":"b","k":29,"v":0.5335,"t":1424,"d":52.4,"i":2},{"p":"b","k":29,"v":0.5335,"t":1388,"d":55.7,"i":3},{"p":"b","k":29,"v":0.5335,"t":1345,"d":60,"i":4},
{"p":"b","k":30,"v":0.545,"t":1475,"d":49.1,"i":0},{"p":"b","k":30,"v":0.545,"t":1454,"d":50.9,"i":1},{"p":"b","k":30,"v":0.545,"t":1429,"d":53.1,"i":2},{"p":"b","k":30,"v":0.545,"t":1396,"d":56.1,"i":3},{"p":"b","k":30,"v":0.545,"t":1356,"d":60,"i":4},
{"p":"b","k":31,"v":0.5565,"t":1475,"d":50.2,"i":0},{"p":"b","k":31,"v":0.5565,"t":1457,"d":51.8,"i":1},{"p":"b","k":31,"v":0.5565,"t":1434,"d":53.8,"i":2},{"p":"b","k":31,"v":0.5565,"t":1404,"d":56.5,"i":3},{"p":"b","k":31,"v":0.5565,"t":1368,"d":60,"i":4},
{"p":"b","k":32,"v":0.568,"t":1475,"d":51.3,"i":0},{"p":"b","k":32,"v":0.568,"t":1459,"d":52.7,"i":1},{"p":"b","k":32,"v":0.568,"t":1438,"d":54.5,"i":2},{"p":"b","k":32,"v":0.568,"t":1412,"d":56.9,"i":3},{"p":"b","k":32,"v":0.568,"t":1380,"d":60,"i":4},
{"p":"b","k":33,"v":0.5795,"t":1475,"d":52.4,"i":0},{"p":"b","k":33,"v":0.5795,"t":1461,"d":53.6,"i":1},{"p":"b","k":33,"v":0.5795,"t":1443,"d":55.2,"i":2},{"p":"b","k":33,"v":0.5795,"t":1420,"d":57.3,"i":3},{"p":"b","k":33,"v":0.5795,"t":1392,"d":60,"i":4},
{"p":"b","k":34,"v":0.591,"t":1475,"d":53.5,"i":0},{"p":"b","k":34,"v":0.591,"t":1463,"d":54.5,"i":1},{"p":"b","k":34,"v":0.591,"t":1447,"d":55.9,"i":2},{"p":"b","k":34,"v":0.591,"t":1428,"d":57.7,"i":3},{"p":"b","k":34,"v":0.591,"t":1404,"d":60,"i":4},
{"p":"b","k":35,"v":0.6025,"t":1475,"d":54.6,"i":0},{"p":"b","k":35,"v":0.6025,"t":1465,"d":55.4,"i":1},{"p":"b","k":35,"v":0.6025,"t":1452,"d":56.6,"i":2},{"p":"b","k":35,"v":0.6025,"t":1436,"d":58,"i":3},{"p":"b","k":35,"v":0.6025,"t":1416,"d":60,"i":4},
{"p":"b","k":36,"v":0.614,"t":1475,"d":55.7,"i":0},{"p":"b","k":36,"v":0.614,"t":1467,"d":56.3,"i":1},{"p":"b","k":36,"v":0.614,"t":1457,"d":57.2,"i":2},{"p":"b","k":36,"v":0.614,"t":1444,"d":58.4,"i":3},{"p":"b","k":36,"v":0.614,"t":1428,"d":60,"i":4},
{"p":"b","k":37,"v":0.6255,"t":1475,"d":56.8,"i":0},{"p":"b","k":37,"v":0.6255,"t":1469,"d":57.3,"i":1},{"p":"b","k":37,"v":0.6255,"t":1462,"d":57.9,"i":2},{"p":"b","k":37,"v":0.6255,"t":1452,"d":58.8,"i":3},{"p":"b","k":37,"v":0.6255,"t":1440,"d":60,"i":4},
{"p":"b","k":38,"v":0.637,"t":1475,"d":57.8,"i":0},{"p":"b","k":38,"v":0.637,"t":1471,"d":58.2,"i":1},{"p":"b","k":38,"v":0.637,"t":1466,"d":58.6,"i":2},{"p":"b","k":38,"v":0.637,"t":1459,"d":59.2,"i":3},{"p":"b","k":38,"v":0.637,"t":1451,"d":60,"i":4},
{"p":"c","k":1,"v":0.173,"t":1274,"d":30,"i":50},{"p":"c","k":10,"v":0.28,"t":1475,"d":30,"i":101},{"p":"c","k":20,"v":0.377,"t":1274,"d":60,"i":50},{"p":"c","k":38,"v":0.568,"t":1475,"d":60,"i":50},
{"p":"c","k":2,"v":0.193,"t":1308,"d":30,"i":0},{"p":"c","k":2,"v":0.193,"t":1294,"d":31,"i":1},{"p":"c","k":2,"v":0.193,"t":1285,"d":31.7,"i":2},{"p":"c","k":2,"v":0.193,"t":1280,"d":32.6,"i":3},{"p":"c","k":2,"v":0.193,"t":1274,"d":33.3,"i":4},
{"p":"c","k":3,"v":0.2025,"t":1324,"d":30,"i":0},{"p":"c","k":3,"v":0.2025,"t":1304,"d":31.5,"i":1},{"p":"c","k":3,"v":0.2025,"t":1291,"d":32.6,"i":2},{"p":"c","k":3,"v":0.2025,"t":1282,"d":33.8,"i":3},{"p":"c","k":3,"v":0.2025,"t":1274,"d":34.9,"i":4},
{"p":"c","k":4,"v":0.212,"t":1340,"d":30,"i":0},{"p":"c","k":4,"v":0.212,"t":1314,"d":32,"i":1},{"p":"c","k":4,"v":0.212,"t":1297,"d":33.4,"i":2},{"p":"c","k":4,"v":0.212,"t":1285,"d":35,"i":3},{"p":"c","k":4,"v":0.212,"t":1274,"d":36.5,"i":4},
{"p":"c","k":5,"v":0.222,"t":1352,"d":30,"i":0},{"p":"c","k":5,"v":0.222,"t":1323,"d":32.5,"i":1},{"p":"c","k":5,"v":0.222,"t":1302,"d":34.2,"i":2},{"p":"c","k":5,"v":0.222,"t":1288,"d":36.2,"i":3},{"p":"c","k":5,"v":0.222,"t":1274,"d":38.2,"i":4},
{"p":"c","k":6,"v":0.232,"t":1365,"d":30,"i":0},{"p":"c","k":6,"v":0.232,"t":1332,"d":32.9,"i":1},{"p":"c","k":6,"v":0.232,"t":1308,"d":35.1,"i":2},{"p":"c","k":6,"v":0.232,"t":1291,"d":37.5,"i":3},{"p":"c","k":6,"v":0.232,"t":1274,"d":39.8,"i":4},
{"p":"c","k":7,"v":0.242,"t":1378,"d":30,"i":0},{"p":"c","k":7,"v":0.242,"t":1340,"d":33.3,"i":1},{"p":"c","k":7,"v":0.242,"t":1314,"d":36,"i":2},{"p":"c","k":7,"v":0.242,"t":1293,"d":38.6,"i":3},{"p":"c","k":7,"v":0.242,"t":1274,"d":41.5,"i":4},
{"p":"c","k":8,"v":0.252,"t":1391,"d":30,"i":0},{"p":"c","k":8,"v":0.252,"t":1349,"d":33.7,"i":1},{"p":"c","k":8,"v":0.252,"t":1320,"d":36.8,"i":2},{"p":"c","k":8,"v":0.252,"t":1296,"d":39.8,"i":3},{"p":"c","k":8,"v":0.252,"t":1274,"d":43.2,"i":4},
{"p":"c","k":9,"v":0.262,"t":1416,"d":30,"i":0},{"p":"c","k":9,"v":0.262,"t":1357,"d":34.1,"i":1},{"p":"c","k":9,"v":0.262,"t":1325,"d":37.6,"i":2},{"p":"c","k":9,"v":0.262,"t":1298,"d":40.9,"i":3},{"p":"c","k":9,"v":0.262,"t":1274,"d":44.7,"i":4},
{"p":"c","k":10,"v":0.272,"t":1441,"d":30,"i":0},{"p":"c","k":10,"v":0.272,"t":1365,"d":34.5,"i":1},{"p":"c","k":10,"v":0.272,"t":1330,"d":38.3,"i":2},{"p":"c","k":10,"v":0.272,"t":1301,"d":42,"i":3},{"p":"c","k":10,"v":0.272,"t":1274,"d":46.2,"i":4},
{"p":"c","k":11,"v":0.282,"t":1475,"d":30.2,"i":0},{"p":"c","k":11,"v":0.282,"t":1374,"d":35,"i":1},{"p":"c","k":11,"v":0.282,"t":1335,"d":39,"i":2},{"p":"c","k":11,"v":0.282,"t":1303,"d":43.1,"i":3},{"p":"c","k":11,"v":0.282,"t":1274,"d":47.5,"i":4},
{"p":"c","k":12,"v":0.292,"t":1475,"d":31.3,"i":0},{"p":"c","k":12,"v":0.292,"t":1382,"d":35.4,"i":1},{"p":"c","k":12,"v":0.292,"t":1339,"d":39.6,"i":2},{"p":"c","k":12,"v":0.292,"t":1306,"d":44.2,"i":3},{"p":"c","k":12,"v":0.292,"t":1274,"d":48.8,"i":4},
{"p":"c","k":13,"v":0.3015,"t":1475,"d":32.2,"i":0},{"p":"c","k":13,"v":0.3015,"t":1391,"d":35.8,"i":1},{"p":"c","k":13,"v":0.3015,"t":1343,"d":40.3,"i":2},{"p":"c","k":13,"v":0.3015,"t":1308,"d":45.2,"i":3},{"p":"c","k":13,"v":0.3015,"t":1274,"d":50,"i":4},
{"p":"c","k":14,"v":0.311,"t":1475,"d":33.2,"i":0},{"p":"c","k":14,"v":0.311,"t":1399,"d":36.2,"i":1},{"p":"c","k":14,"v":0.311,"t":1347,"d":40.9,"i":2},{"p":"c","k":14,"v":0.311,"t":1310,"d":46.1,"i":3},{"p":"c","k":14,"v":0.311,"t":1274,"d":51.3,"i":4},
{"p":"c","k":15,"v":0.321,"t":1475,"d":34.2,"i":0},{"p":"c","k":15,"v":0.321,"t":1408,"d":36.7,"i":1},{"p":"c","k":15,"v":0.321,"t":1352,"d":41.6,"i":2},{"p":"c","k":15,"v":0.321,"t":1312,"d":47,"i":3},{"p":"c","k":15,"v":0.321,"t":1274,"d":52.6,"i":4},
{"p":"c","k":16,"v":0.331,"t":1475,"d":35.3,"i":0},{"p":"c","k":16,"v":0.331,"t":1417,"d":37.1,"i":1},{"p":"c","k":16,"v":0.331,"t":1356,"d":42.2,"i":2},{"p":"c","k":16,"v":0.331,"t":1314,"d":47.9,"i":3},{"p":"c","k":16,"v":0.331,"t":1274,"d":53.9,"i":4},
{"p":"c","k":17,"v":0.341,"t":1475,"d":36.4,"i":0},{"p":"c","k":17,"v":0.341,"t":1422,"d":37.9,"i":1},{"p":"c","k":17,"v":0.341,"t":1360,"d":42.9,"i":2},{"p":"c","k":17,"v":0.341,"t":1316,"d":48.8,"i":3},{"p":"c","k":17,"v":0.341,"t":1274,"d":55.2,"i":4},
{"p":"c","k":18,"v":0.351,"t":1475,"d":37.4,"i":0},{"p":"c","k":18,"v":0.351,"t":1427,"d":38.6,"i":1},{"p":"c","k":18,"v":0.351,"t":1365,"d":43.6,"i":2},{"p":"c","k":18,"v":0.351,"t":1318,"d":49.6,"i":3},{"p":"c","k":18,"v":0.351,"t":1274,"d":56.6,"i":4},
{"p":"c","k":19,"v":0.361,"t":1475,"d":38.4,"i":0},{"p":"c","k":19,"v":0.361,"t":1430,"d":39.6,"i":1},{"p":"c","k":19,"v":0.361,"t":1370,"d":44.2,"i":2},{"p":"c","k":19,"v":0.361,"t":1320,"d":50.5,"i":3},{"p":"c","k":19,"v":0.361,"t":1274,"d":57.8,"i":4},
{"p":"c","k":20,"v":0.3705,"t":1475,"d":39.4,"i":0},{"p":"c","k":20,"v":0.3705,"t":1432,"d":40.6,"i":1},{"p":"c","k":20,"v":0.3705,"t":1374,"d":44.9,"i":2},{"p":"c","k":20,"v":0.3705,"t":1322,"d":51.4,"i":3},{"p":"c","k":20,"v":0.3705,"t":1274,"d":59.1,"i":4},
{"p":"c","k":21,"v":0.38,"t":1475,"d":40.5,"i":0},{"p":"c","k":21,"v":0.38,"t":1434,"d":41.5,"i":1},{"p":"c","k":21,"v":0.38,"t":1378,"d":45.5,"i":2},{"p":"c","k":21,"v":0.38,"t":1325,"d":52,"i":3},{"p":"c","k":21,"v":0.38,"t":1276,"d":60,"i":4},
{"p":"c","k":22,"v":0.39,"t":1475,"d":41.5,"i":0},{"p":"c","k":22,"v":0.39,"t":1436,"d":42.5,"i":1},{"p":"c","k":22,"v":0.39,"t":1382,"d":46.2,"i":2},{"p":"c","k":22,"v":0.39,"t":1328,"d":52.7,"i":3},{"p":"c","k":22,"v":0.39,"t":1283,"d":60,"i":4},
{"p":"c","k":23,"v":0.4,"t":1475,"d":42.5,"i":0},{"p":"c","k":23,"v":0.4,"t":1438,"d":43.5,"i":1},{"p":"c","k":23,"v":0.4,"t":1387,"d":46.8,"i":2},{"p":"c","k":23,"v":0.4,"t":1334,"d":53,"i":3},{"p":"c","k":23,"v":0.4,"t":1290,"d":60,"i":4},
{"p":"c","k":24,"v":0.41,"t":1475,"d":43.5,"i":0},{"p":"c","k":24,"v":0.41,"t":1440,"d":44.5,"i":1},{"p":"c","k":24,"v":0.41,"t":1391,"d":47.5,"i":2},{"p":"c","k":24,"v":0.41,"t":1340,"d":53.3,"i":3},{"p":"c","k":24,"v":0.41,"t":1297,"d":60,"i":4},
{"p":"c","k":25,"v":0.42,"t":1475,"d":44.6,"i":0},{"p":"c","k":25,"v":0.42,"t":1443,"d":45.4,"i":1},{"p":"c","k":25,"v":0.42,"t":1396,"d":48.2,"i":2},{"p":"c","k":25,"v":0.42,"t":1346,"d":53.6,"i":3},{"p":"c","k":25,"v":0.42,"t":1304,"d":60,"i":4},
{"p":"c","k":26,"v":0.43,"t":1475,"d":45.6,"i":0},{"p":"c","k":26,"v":0.43,"t":1445,"d":46.4,"i":1},{"p":"c","k":26,"v":0.43,"t":1400,"d":48.8,"i":2},{"p":"c","k":26,"v":0.43,"t":1351,"d":53.9,"i":3},{"p":"c","k":26,"v":0.43,"t":1310,"d":60,"i":4},
{"p":"c","k":27,"v":0.44,"t":1475,"d":46.6,"i":0},{"p":"c","k":27,"v":0.44,"t":1447,"d":47.3,"i":1},{"p":"c","k":27,"v":0.44,"t":1404,"d":49.4,"i":2},{"p":"c","k":27,"v":0.44,"t":1357,"d":54.1,"i":3},{"p":"c","k":27,"v":0.44,"t":1317,"d":60,"i":4},
{"p":"c","k":28,"v":0.449,"t":1475,"d":47.6,"i":0},{"p":"c","k":28,"v":0.449,"t":1449,"d":48.3,"i":1},{"p":"c","k":28,"v":0.449,"t":1408,"d":50.1,"i":2},{"p":"c","k":28,"v":0.449,"t":1362,"d":54.4,"i":3},{"p":"c","k":28,"v":0.449,"t":1324,"d":60,"i":4},
{"p":"c","k":29,"v":0.459,"t":1475,"d":48.6,"i":0},{"p":"c","k":29,"v":0.459,"t":1451,"d":49.2,"i":1},{"p":"c","k":29,"v":0.459,"t":1413,"d":50.7,"i":2},{"p":"c","k":29,"v":0.459,"t":1368,"d":54.7,"i":3},{"p":"c","k":29,"v":0.459,"t":1331,"d":60,"i":4},
{"p":"c","k":30,"v":0.469,"t":1475,"d":49.7,"i":0},{"p":"c","k":30,"v":0.469,"t":1453,"d":50.2,"i":1},{"p":"c","k":30,"v":0.469,"t":1417,"d":51.4,"i":2},{"p":"c","k":30,"v":0.469,"t":1374,"d":55,"i":3},{"p":"c","k":30,"v":0.469,"t":1338,"d":60,"i":4},
{"p":"c","k":31,"v":0.479,"t":1475,"d":50.7,"i":0},{"p":"c","k":31,"v":0.479,"t":1455,"d":51.2,"i":1},{"p":"c","k":31,"v":0.479,"t":1422,"d":52.1,"i":2},{"p":"c","k":31,"v":0.479,"t":1381,"d":55.3,"i":3},{"p":"c","k":31,"v":0.479,"t":1345,"d":60,"i":4},
{"p":"c","k":32,"v":0.489,"t":1475,"d":51.8,"i":0},{"p":"c","k":32,"v":0.489,"t":1458,"d":52.2,"i":1},{"p":"c","k":32,"v":0.489,"t":1427,"d":52.8,"i":2},{"p":"c","k":32,"v":0.489,"t":1389,"d":55.7,"i":3},{"p":"c","k":32,"v":0.489,"t":1353,"d":60,"i":4},
{"p":"c","k":33,"v":0.499,"t":1475,"d":52.8,"i":0},{"p":"c","k":33,"v":0.499,"t":1460,"d":53.2,"i":1},{"p":"c","k":33,"v":0.499,"t":1433,"d":53.7,"i":2},{"p":"c","k":33,"v":0.499,"t":1397,"d":56.1,"i":3},{"p":"c","k":33,"v":0.499,"t":1360,"d":60,"i":4},
{"p":"c","k":34,"v":0.509,"t":1475,"d":53.9,"i":0},{"p":"c","k":34,"v":0.509,"t":1462,"d":54.2,"i":1},{"p":"c","k":34,"v":0.509,"t":1439,"d":54.6,"i":2},{"p":"c","k":34,"v":0.509,"t":1405,"d":56.5,"i":3},{"p":"c","k":34,"v":0.509,"t":1368,"d":60,"i":4},
{"p":"c","k":35,"v":0.5185,"t":1475,"d":54.8,"i":0},{"p":"c","k":35,"v":0.5185,"t":1464,"d":55.1,"i":1},{"p":"c","k":35,"v":0.5185,"t":1445,"d":55.5,"i":2},{"p":"c","k":35,"v":0.5185,"t":1412,"d":56.8,"i":3},{"p":"c","k":35,"v":0.5185,"t":1377,"d":60,"i":4},
{"p":"c","k":36,"v":0.528,"t":1475,"d":55.8,"i":0},{"p":"c","k":36,"v":0.528,"t":1466,"d":56,"i":1},{"p":"c","k":36,"v":0.528,"t":1451,"d":56.4,"i":2},{"p":"c","k":36,"v":0.528,"t":1419,"d":57.2,"i":3},{"p":"c","k":36,"v":0.528,"t":1387,"d":60,"i":4},
{"p":"c","k":37,"v":0.538,"t":1475,"d":56.8,"i":0},{"p":"c","k":37,"v":0.538,"t":1468,"d":57,"i":1},{"p":"c","k":37,"v":0.538,"t":1457,"d":57.3,"i":2},{"p":"c","k":37,"v":0.538,"t":1432,"d":57.8,"i":3},{"p":"c","k":37,"v":0.538,"t":1398,"d":60,"i":4},
{"p":"c","k":38,"v":0.548,"t":1475,"d":57.9,"i":0},{"p":"c","k":38,"v":0.548,"t":1471,"d":58,"i":1},{"p":"c","k":38,"v":0.548,"t":1463,"d":58.2,"i":2},{"p":"c","k":38,"v":0.548,"t":1445,"d":58.5,"i":3},{"p":"c","k":38,"v":0.548,"t":1410,"d":60,"i":4}
]},
"transform":[
{"calculate":"datum.i>=50?[0]:[0,1]","as":"sides"},{"flatten":["sides"],"as":["side"]},
{"calculate":"datum.k-datum.side","as":"band"},
{"calculate":"datum.side==0?datum.i:100-datum.i","as":"ord"},
{"calculate":"(datum.band+0.5)/40","as":"u"},
{"calculate":"datum.p+'-'+datum.band","as":"key"},
{"calculate":"datum.p=='a'?0:datum.p=='b'?919:463","as":"ox"},{"calculate":"datum.p=='c'?572:0","as":"oy"},
{"calculate":"(1475-datum.t)/201","as":"s"},{"calculate":"(datum.d-30)/30","as":"r"},{"calculate":"(datum.v-0.15)/0.65","as":"w"},
{"calculate":"(1-datum.w)*((1-datum.s)*(1-datum.r)*87+datum.s*(1-datum.r)*383+datum.s*datum.r*622+(1-datum.s)*datum.r*338)+datum.w*((1-datum.s)*(1-datum.r)*72+datum.s*(1-datum.r)*385+datum.s*datum.r*638+(1-datum.s)*datum.r*337)+datum.ox","as":"px"},
{"calculate":"(1-datum.w)*((1-datum.s)*(1-datum.r)*436+datum.s*(1-datum.r)*546+datum.s*datum.r*420+(1-datum.s)*datum.r*343)+datum.w*((1-datum.s)*(1-datum.r)*56+datum.s*(1-datum.r)*114+datum.s*datum.r*48+(1-datum.s)*datum.r*13)+datum.oy","as":"py"}
],
"mark":{"type":"line","strokeWidth":1.5,"interpolate":"linear"},
"encoding":{
"x":{"field":"px","type":"quantitative","axis":null,"scale":{"domain":[0,1568],"nice":false,"zero":false}},
"y":{"field":"py","type":"quantitative","axis":null,"scale":{"domain":[1135,0],"nice":false,"zero":false}},
"detail":{"field":"key"},
"order":{"field":"ord","type":"quantitative"},
"fill":{"field":"u","type":"quantitative","legend":null,"scale":{"domain":[0.03,0.07,0.12,0.17,0.24,0.29,0.34,0.37,0.45,0.5,0.57,0.63,0.85,0.97],"range":["#6b0080","#8000c8","#6a00ff","#0000ff","#0080ff","#00ffff","#00ff60","#00ff00","#b0ff00","#ffff00","#ff9000","#ff0000","#ff0000","#600000"]}},
"stroke":{"field":"u","type":"quantitative","legend":null,"scale":{"domain":[0.03,0.07,0.12,0.17,0.24,0.29,0.34,0.37,0.45,0.5,0.57,0.63,0.85,0.97],"range":["#6b0080","#8000c8","#6a00ff","#0000ff","#0080ff","#00ffff","#00ff60","#00ff00","#b0ff00","#ffff00","#ff9000","#ff0000","#ff0000","#600000"]}}
}},
{"data":{"values":[
{"p":"a","m":"t","t":1458,"d":30,"v":0.44},{"p":"a","m":"t","t":1458,"d":45,"v":0.633},{"p":"a","m":"t","t":1458,"d":60,"v":0.77},
{"p":"a","m":"t","t":1442,"d":30,"v":0.434},{"p":"a","m":"t","t":1442,"d":45,"v":0.62},{"p":"a","m":"t","t":1442,"d":60,"v":0.76},
{"p":"a","m":"t","t":1425,"d":30,"v":0.429},{"p":"a","m":"t","t":1425,"d":45,"v":0.608},{"p":"a","m":"t","t":1425,"d":60,"v":0.75},
{"p":"a","m":"t","t":1408,"d":30,"v":0.42},{"p":"a","m":"t","t":1408,"d":45,"v":0.594},{"p":"a","m":"t","t":1408,"d":60,"v":0.737},
{"p":"a","m":"t","t":1391,"d":30,"v":0.404},{"p":"a","m":"t","t":1391,"d":45,"v":0.577},{"p":"a","m":"t","t":1391,"d":60,"v":0.727},
{"p":"a","m":"t","t":1375,"d":30,"v":0.388},{"p":"a","m":"t","t":1375,"d":45,"v":0.558},{"p":"a","m":"t","t":1375,"d":60,"v":0.715},
{"p":"a","m":"t","t":1358,"d":30,"v":0.373},{"p":"a","m":"t","t":1358,"d":45,"v":0.536},{"p":"a","m":"t","t":1358,"d":60,"v":0.695},
{"p":"a","m":"t","t":1341,"d":30,"v":0.355},{"p":"a","m":"t","t":1341,"d":45,"v":0.513},{"p":"a","m":"t","t":1341,"d":60,"v":0.675},
{"p":"a","m":"t","t":1324,"d":30,"v":0.331},{"p":"a","m":"t","t":1324,"d":45,"v":0.487},{"p":"a","m":"t","t":1324,"d":60,"v":0.655},
{"p":"a","m":"t","t":1308,"d":30,"v":0.308},{"p":"a","m":"t","t":1308,"d":45,"v":0.457},{"p":"a","m":"t","t":1308,"d":60,"v":0.626},
{"p":"a","m":"t","t":1291,"d":30,"v":0.284},{"p":"a","m":"t","t":1291,"d":45,"v":0.427},{"p":"a","m":"t","t":1291,"d":60,"v":0.6},
{"p":"a","m":"d","t":1475,"d":32.5,"v":0.48},{"p":"a","m":"d","t":1375,"d":32.5,"v":0.4175},{"p":"a","m":"d","t":1274,"d":32.5,"v":0.283},
{"p":"a","m":"d","t":1475,"d":35,"v":0.515},{"p":"a","m":"d","t":1375,"d":35,"v":0.447},{"p":"a","m":"d","t":1274,"d":35,"v":0.307},
{"p":"a","m":"d","t":1475,"d":37.5,"v":0.55},{"p":"a","m":"d","t":1375,"d":37.5,"v":0.476},{"p":"a","m":"d","t":1274,"d":37.5,"v":0.33},
{"p":"a","m":"d","t":1475,"d":40,"v":0.581},{"p":"a","m":"d","t":1375,"d":40,"v":0.5035},{"p":"a","m":"d","t":1274,"d":40,"v":0.354},
{"p":"a","m":"d","t":1475,"d":42.5,"v":0.612},{"p":"a","m":"d","t":1375,"d":42.5,"v":0.5305},{"p":"a","m":"d","t":1274,"d":42.5,"v":0.377},
{"p":"a","m":"d","t":1475,"d":45,"v":0.643},{"p":"a","m":"d","t":1375,"d":45,"v":0.5575},{"p":"a","m":"d","t":1274,"d":45,"v":0.4},
{"p":"a","m":"d","t":1475,"d":47.5,"v":0.669},{"p":"a","m":"d","t":1375,"d":47.5,"v":0.584},{"p":"a","m":"d","t":1274,"d":47.5,"v":0.427},
{"p":"a","m":"d","t":1475,"d":50,"v":0.695},{"p":"a","m":"d","t":1375,"d":50,"v":0.612},{"p":"a","m":"d","t":1274,"d":50,"v":0.457},
{"p":"a","m":"d","t":1475,"d":52.5,"v":0.72},{"p":"a","m":"d","t":1375,"d":52.5,"v":0.6395},{"p":"a","m":"d","t":1274,"d":52.5,"v":0.487},
{"p":"a","m":"d","t":1475,"d":55,"v":0.739},{"p":"a","m":"d","t":1375,"d":55,"v":0.664},{"p":"a","m":"d","t":1274,"d":55,"v":0.517},
{"p":"a","m":"d","t":1475,"d":57.5,"v":0.758},{"p":"a","m":"d","t":1375,"d":57.5,"v":0.689},{"p":"a","m":"d","t":1274,"d":57.5,"v":0.548},
{"p":"b","m":"t","t":1458,"d":30,"v":0.331},{"p":"b","m":"t","t":1458,"d":45,"v":0.487},{"p":"b","m":"t","t":1458,"d":60,"v":0.644},
{"p":"b","m":"t","t":1442,"d":30,"v":0.319},{"p":"b","m":"t","t":1442,"d":45,"v":0.473},{"p":"b","m":"t","t":1442,"d":60,"v":0.628},
{"p":"b","m":"t","t":1425,"d":30,"v":0.307},{"p":"b","m":"t","t":1425,"d":45,"v":0.459},{"p":"b","m":"t","t":1425,"d":60,"v":0.611},
{"p":"b","m":"t","t":1408,"d":30,"v":0.295},{"p":"b","m":"t","t":1408,"d":45,"v":0.445},{"p":"b","m":"t","t":1408,"d":60,"v":0.595},
{"p":"b","m":"t","t":1391,"d":30,"v":0.283},{"p":"b","m":"t","t":1391,"d":45,"v":0.431},{"p":"b","m":"t","t":1391,"d":60,"v":0.579},
{"p":"b","m":"t","t":1375,"d":30,"v":0.272},{"p":"b","m":"t","t":1375,"d":45,"v":0.417},{"p":"b","m":"t","t":1375,"d":60,"v":0.563},
{"p":"b","m":"t","t":1358,"d":30,"v":0.26},{"p":"b","m":"t","t":1358,"d":45,"v":0.403},{"p":"b","m":"t","t":1358,"d":60,"v":0.546},
{"p":"b","m":"t","t":1341,"d":30,"v":0.248},{"p":"b","m":"t","t":1341,"d":45,"v":0.389},{"p":"b","m":"t","t":1341,"d":60,"v":0.53},
{"p":"b","m":"t","t":1324,"d":30,"v":0.236},{"p":"b","m":"t","t":1324,"d":45,"v":0.375},{"p":"b","m":"t","t":1324,"d":60,"v":0.514},
{"p":"b","m":"t","t":1308,"d":30,"v":0.224},{"p":"b","m":"t","t":1308,"d":45,"v":0.361},{"p":"b","m":"t","t":1308,"d":60,"v":0.498},
{"p":"b","m":"t","t":1291,"d":30,"v":0.212},{"p":"b","m":"t","t":1291,"d":45,"v":0.347},{"p":"b","m":"t","t":1291,"d":60,"v":0.481},
{"p":"b","m":"d","t":1475,"d":32.5,"v":0.369},{"p":"b","m":"d","t":1375,"d":32.5,"v":0.296},{"p":"b","m":"d","t":1274,"d":32.5,"v":0.222},
{"p":"b","m":"d","t":1475,"d":35,"v":0.396},{"p":"b","m":"d","t":1375,"d":35,"v":0.32},{"p":"b","m":"d","t":1274,"d":35,"v":0.244},
{"p":"b","m":"d","t":1475,"d":37.5,"v":0.422},{"p":"b","m":"d","t":1375,"d":37.5,"v":0.344},{"p":"b","m":"d","t":1274,"d":37.5,"v":0.266},
{"p":"b","m":"d","t":1475,"d":40,"v":0.449},{"p":"b","m":"d","t":1375,"d":40,"v":0.369},{"p":"b","m":"d","t":1274,"d":40,"v":0.288},
{"p":"b","m":"d","t":1475,"d":42.5,"v":0.475},{"p":"b","m":"d","t":1375,"d":42.5,"v":0.393},{"p":"b","m":"d","t":1274,"d":42.5,"v":0.31},
{"p":"b","m":"d","t":1475,"d":45,"v":0.502},{"p":"b","m":"d","t":1375,"d":45,"v":0.417},{"p":"b","m":"d","t":1274,"d":45,"v":0.333},
{"p":"b","m":"d","t":1475,"d":47.5,"v":0.528},{"p":"b","m":"d","t":1375,"d":47.5,"v":0.441},{"p":"b","m":"d","t":1274,"d":47.5,"v":0.355},
{"p":"b","m":"d","t":1475,"d":50,"v":0.554},{"p":"b","m":"d","t":1375,"d":50,"v":0.466},{"p":"b","m":"d","t":1274,"d":50,"v":0.377},
{"p":"b","m":"d","t":1475,"d":52.5,"v":0.581},{"p":"b","m":"d","t":1375,"d":52.5,"v":0.49},{"p":"b","m":"d","t":1274,"d":52.5,"v":0.399},
{"p":"b","m":"d","t":1475,"d":55,"v":0.607},{"p":"b","m":"d","t":1375,"d":55,"v":0.514},{"p":"b","m":"d","t":1274,"d":55,"v":0.421},
{"p":"b","m":"d","t":1475,"d":57.5,"v":0.634},{"p":"b","m":"d","t":1375,"d":57.5,"v":0.538},{"p":"b","m":"d","t":1274,"d":57.5,"v":0.443},
{"p":"c","m":"t","t":1458,"d":30,"v":0.276},{"p":"c","m":"t","t":1458,"d":45,"v":0.4195},{"p":"c","m":"t","t":1458,"d":60,"v":0.565},
{"p":"c","m":"t","t":1442,"d":30,"v":0.272},{"p":"c","m":"t","t":1442,"d":45,"v":0.4155},{"p":"c","m":"t","t":1442,"d":60,"v":0.563},
{"p":"c","m":"t","t":1425,"d":30,"v":0.268},{"p":"c","m":"t","t":1425,"d":45,"v":0.411},{"p":"c","m":"t","t":1425,"d":60,"v":0.56},
{"p":"c","m":"t","t":1408,"d":30,"v":0.264},{"p":"c","m":"t","t":1408,"d":45,"v":0.401},{"p":"c","m":"t","t":1408,"d":60,"v":0.546},
{"p":"c","m":"t","t":1391,"d":30,"v":0.252},{"p":"c","m":"t","t":1391,"d":45,"v":0.387},{"p":"c","m":"t","t":1391,"d":60,"v":0.532},
{"p":"c","m":"t","t":1375,"d":30,"v":0.239},{"p":"c","m":"t","t":1375,"d":45,"v":0.3725},{"p":"c","m":"t","t":1375,"d":60,"v":0.518},
{"p":"c","m":"t","t":1358,"d":30,"v":0.226},{"p":"c","m":"t","t":1358,"d":45,"v":0.3535},{"p":"c","m":"t","t":1358,"d":60,"v":0.495},
{"p":"c","m":"t","t":1341,"d":30,"v":0.213},{"p":"c","m":"t","t":1341,"d":45,"v":0.335},{"p":"c","m":"t","t":1341,"d":60,"v":0.473},
{"p":"c","m":"t","t":1324,"d":30,"v":0.203},{"p":"c","m":"t","t":1324,"d":45,"v":0.3175},{"p":"c","m":"t","t":1324,"d":60,"v":0.45},
{"p":"c","m":"t","t":1308,"d":30,"v":0.193},{"p":"c","m":"t","t":1308,"d":45,"v":0.299},{"p":"c","m":"t","t":1308,"d":60,"v":0.425},
{"p":"c","m":"t","t":1291,"d":30,"v":0.183},{"p":"c","m":"t","t":1291,"d":45,"v":0.281},{"p":"c","m":"t","t":1291,"d":60,"v":0.401},
{"p":"c","m":"d","t":1475,"d":32.5,"v":0.304},{"p":"c","m":"d","t":1375,"d":32.5,"v":0.261},{"p":"c","m":"d","t":1274,"d":32.5,"v":0.188},
{"p":"c","m":"d","t":1475,"d":35,"v":0.328},{"p":"c","m":"d","t":1375,"d":35,"v":0.2835},{"p":"c","m":"d","t":1274,"d":35,"v":0.203},
{"p":"c","m":"d","t":1475,"d":37.5,"v":0.352},{"p":"c","m":"d","t":1375,"d":37.5,"v":0.306},{"p":"c","m":"d","t":1274,"d":37.5,"v":0.218},
{"p":"c","m":"d","t":1475,"d":40,"v":0.376},{"p":"c","m":"d","t":1375,"d":40,"v":0.3285},{"p":"c","m":"d","t":1274,"d":40,"v":0.233},
{"p":"c","m":"d","t":1475,"d":42.5,"v":0.4},{"p":"c","m":"d","t":1375,"d":42.5,"v":0.35},{"p":"c","m":"d","t":1274,"d":42.5,"v":0.248},
{"p":"c","m":"d","t":1475,"d":45,"v":0.424},{"p":"c","m":"d","t":1375,"d":45,"v":0.3725},{"p":"c","m":"d","t":1274,"d":45,"v":0.263},
{"p":"c","m":"d","t":1475,"d":47.5,"v":0.448},{"p":"c","m":"d","t":1375,"d":47.5,"v":0.397},{"p":"c","m":"d","t":1274,"d":47.5,"v":0.282},
{"p":"c","m":"d","t":1475,"d":50,"v":0.472},{"p":"c","m":"d","t":1375,"d":50,"v":0.4215},{"p":"c","m":"d","t":1274,"d":50,"v":0.301},
{"p":"c","m":"d","t":1475,"d":52.5,"v":0.496},{"p":"c","m":"d","t":1375,"d":52.5,"v":0.445},{"p":"c","m":"d","t":1274,"d":52.5,"v":0.32},
{"p":"c","m":"d","t":1475,"d":55,"v":0.52},{"p":"c","m":"d","t":1375,"d":55,"v":0.4695},{"p":"c","m":"d","t":1274,"d":55,"v":0.339},
{"p":"c","m":"d","t":1475,"d":57.5,"v":0.544},{"p":"c","m":"d","t":1375,"d":57.5,"v":0.494},{"p":"c","m":"d","t":1274,"d":57.5,"v":0.358}
]},
"transform":[
{"calculate":"datum.p+datum.m+(datum.m=='t'?datum.t:datum.d)","as":"key"},
{"calculate":"datum.m=='t'?datum.d:datum.t","as":"ord"},
{"calculate":"datum.p=='a'?0:datum.p=='b'?919:463","as":"ox"},{"calculate":"datum.p=='c'?572:0","as":"oy"},
{"calculate":"(1475-datum.t)/201","as":"s"},{"calculate":"(datum.d-30)/30","as":"r"},{"calculate":"(datum.v-0.15)/0.65","as":"w"},
{"calculate":"(1-datum.w)*((1-datum.s)*(1-datum.r)*87+datum.s*(1-datum.r)*383+datum.s*datum.r*622+(1-datum.s)*datum.r*338)+datum.w*((1-datum.s)*(1-datum.r)*72+datum.s*(1-datum.r)*385+datum.s*datum.r*638+(1-datum.s)*datum.r*337)+datum.ox","as":"px"},
{"calculate":"(1-datum.w)*((1-datum.s)*(1-datum.r)*436+datum.s*(1-datum.r)*546+datum.s*datum.r*420+(1-datum.s)*datum.r*343)+datum.w*((1-datum.s)*(1-datum.r)*56+datum.s*(1-datum.r)*114+datum.s*datum.r*48+(1-datum.s)*datum.r*13)+datum.oy","as":"py"}
],
"mark":{"type":"line","stroke":"#b8b8b8","strokeWidth":1.8,"opacity":0.55,"interpolate":"cardinal"},
"encoding":{
"x":{"field":"px","type":"quantitative","axis":null,"scale":{"domain":[0,1568],"nice":false,"zero":false}},
"y":{"field":"py","type":"quantitative","axis":null,"scale":{"domain":[1135,0],"nice":false,"zero":false}},
"detail":{"field":"key"},
"order":{"field":"ord","type":"quantitative"}
}},
{"data":{"values":[
{"g":"T","label":"1460","t":1460,"d":27,"v":0.15},{"g":"T","label":"1440","t":1440,"d":27,"v":0.15},{"g":"T","label":"1420","t":1420,"d":27,"v":0.15},{"g":"T","label":"1400","t":1400,"d":27,"v":0.15},{"g":"T","label":"1380","t":1380,"d":27,"v":0.15},{"g":"T","label":"1360","t":1360,"d":27,"v":0.15},{"g":"T","label":"1340","t":1340,"d":27,"v":0.15},{"g":"T","label":"1320","t":1320,"d":27,"v":0.15},{"g":"T","label":"1300","t":1300,"d":27,"v":0.15},{"g":"T","label":"1280","t":1280,"d":27.4,"v":0.15},
{"g":"D","label":"30","t":1264,"d":30,"v":0.15},{"g":"D","label":"35","t":1264,"d":35,"v":0.15},{"g":"D","label":"40","t":1264,"d":40,"v":0.15},{"g":"D","label":"45","t":1264,"d":45,"v":0.15},{"g":"D","label":"50","t":1264,"d":50,"v":0.15},{"g":"D","label":"55","t":1264,"d":55,"v":0.15},{"g":"D","label":"60","t":1264,"d":60,"v":0.15},
{"g":"V","label":"0.2","t":1475,"d":27.9,"v":0.2},{"g":"V","label":"0.3","t":1475,"d":27.9,"v":0.3},{"g":"V","label":"0.4","t":1475,"d":27.9,"v":0.4},{"g":"V","label":"0.5","t":1475,"d":27.9,"v":0.5},{"g":"V","label":"0.6","t":1475,"d":27.9,"v":0.6},{"g":"V","label":"0.7","t":1475,"d":27.9,"v":0.7},{"g":"V","label":"0.8","t":1475,"d":27.9,"v":0.8},
{"g":"TT","label":"Temperature/K","t":1374,"d":22.5,"v":0.15},{"g":"DT","label":"Amount of deformation/%","t":1242,"d":43.8,"v":0.15},{"g":"VT","label":"Recrystallization volume fraction","t":1475,"d":25.5,"v":0.472},
{"g":"L","label":"(a)","t":1475,"d":24.6,"v":0.82},{"g":"L","label":"(b)","t":1475,"d":24.6,"v":0.82},{"g":"L","label":"(c)","t":1475,"d":24.6,"v":0.82}
]},
"transform":[
{"calculate":"['a','b','c']","as":"ps"},{"flatten":["ps"],"as":["p"]},
{"filter":"datum.g!='L'||datum.label=='('+datum.p+')'"},
{"calculate":"datum.p=='a'?0:datum.p=='b'?919:463","as":"ox"},{"calculate":"datum.p=='c'?572:0","as":"oy"},
{"calculate":"(1475-datum.t)/201","as":"s"},{"calculate":"(datum.d-30)/30","as":"r"},{"calculate":"(datum.v-0.15)/0.65","as":"w"},
{"calculate":"(1-datum.w)*((1-datum.s)*(1-datum.r)*87+datum.s*(1-datum.r)*383+datum.s*datum.r*622+(1-datum.s)*datum.r*338)+datum.w*((1-datum.s)*(1-datum.r)*72+datum.s*(1-datum.r)*385+datum.s*datum.r*638+(1-datum.s)*datum.r*337)+datum.ox","as":"px"},
{"calculate":"(1-datum.w)*((1-datum.s)*(1-datum.r)*436+datum.s*(1-datum.r)*546+datum.s*datum.r*420+(1-datum.s)*datum.r*343)+datum.w*((1-datum.s)*(1-datum.r)*56+datum.s*(1-datum.r)*114+datum.s*datum.r*48+(1-datum.s)*datum.r*13)+datum.oy","as":"py"}
],
"mark":{"type":"text","font":"Liberation Serif","fontWeight":"bold","align":"center","baseline":"middle","color":"#000000"},
"encoding":{
"x":{"field":"px","type":"quantitative","axis":null,"scale":{"domain":[0,1568],"nice":false,"zero":false}},
"y":{"field":"py","type":"quantitative","axis":null,"scale":{"domain":[1135,0],"nice":false,"zero":false}},
"text":{"field":"label"},
"angle":{"field":"g","type":"nominal","legend":null,"scale":{"type":"ordinal","domain":["T","D","V","TT","DT","VT","L"],"range":[-38,22,-6,29,-28,88,0]}},
"size":{"field":"g","type":"nominal","legend":null,"scale":{"type":"ordinal","domain":["T","D","V","TT","DT","VT","L"],"range":[32,28,38,38,34,44,56]}}
}}
],
"resolve":{"scale":{"fill":"shared","stroke":"shared"}}
}
